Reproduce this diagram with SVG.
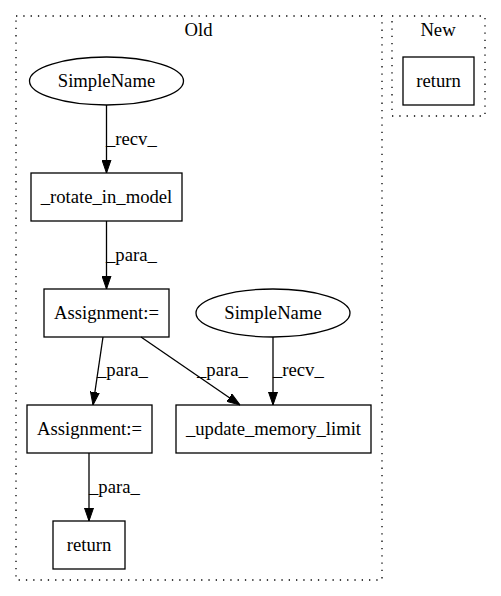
<svg xmlns="http://www.w3.org/2000/svg" width="501" height="596" viewBox="0 0 501 596">
<style>
text{font-family:"Liberation Serif","Times New Roman",serif;font-size:18.67px;fill:#000}
.n{fill:none;stroke:#000;stroke-width:1.3}
.c{fill:none;stroke:#000;stroke-width:1.3;stroke-dasharray:1.3,6}
.e{fill:none;stroke:#000;stroke-width:1.3}
.m{text-anchor:middle}
</style>
<defs>
<marker id="ah" markerWidth="13" markerHeight="10" refX="13" refY="5" orient="auto" markerUnits="userSpaceOnUse">
<polygon points="0,0.5 13,5 0,9.5" fill="#000" stroke="#000" stroke-width="1"/>
</marker>
</defs>
<rect width="501" height="596" fill="#fff"/>
<g id="cluster_old"><rect class="c" x="16" y="16" width="366" height="564"/><text class="m" x="198.5" y="36">Old</text></g>
<g id="cluster_new"><rect class="c" x="392" y="16" width="93" height="100"/><text class="m" x="438" y="36">New</text></g>
<g id="new_return"><rect class="n" x="403" y="57" width="71" height="48"/><text class="m" x="438.5" y="86.5">return</text></g>
<g id="simplename1"><ellipse class="n" cx="106.5" cy="81" rx="77" ry="24"/><text class="m" x="106.5" y="86.5">SimpleName</text></g>
<g id="rotate"><rect class="n" x="31" y="173" width="151" height="48"/><text class="m" x="106.5" y="202.5">_rotate_in_model</text></g>
<g id="assign1"><rect class="n" x="44" y="289" width="125" height="48"/><text class="m" x="106.5" y="318.5">Assignment:=</text></g>
<g id="simplename2"><ellipse class="n" cx="273" cy="313" rx="77" ry="24"/><text class="m" x="273" y="318.5">SimpleName</text></g>
<g id="assign2"><rect class="n" x="27" y="405" width="125" height="48"/><text class="m" x="89.5" y="434.5">Assignment:=</text></g>
<g id="update"><rect class="n" x="176" y="405" width="195" height="48"/><text class="m" x="273.5" y="434.5">_update_memory_limit</text></g>
<g id="old_return"><rect class="n" x="53" y="521" width="72" height="48"/><text class="m" x="89" y="550.5">return</text></g>
<g id="edges">
<line class="e" x1="106.5" y1="105" x2="106.5" y2="173" marker-end="url(#ah)"/>
<text x="106" y="145">_recv_</text>
<line class="e" x1="106.5" y1="221" x2="106.5" y2="289" marker-end="url(#ah)"/>
<text x="106" y="261">_para_</text>
<line class="e" x1="103" y1="337" x2="93" y2="405" marker-end="url(#ah)"/>
<text x="97" y="376">_para_</text>
<line class="e" x1="141" y1="337" x2="240" y2="405" marker-end="url(#ah)"/>
<text x="197" y="376">_para_</text>
<line class="e" x1="273" y1="337" x2="273" y2="405" marker-end="url(#ah)"/>
<text x="273" y="376">_recv_</text>
<line class="e" x1="89" y1="453" x2="89" y2="521" marker-end="url(#ah)"/>
<text x="89" y="493">_para_</text>
</g>
</svg>
